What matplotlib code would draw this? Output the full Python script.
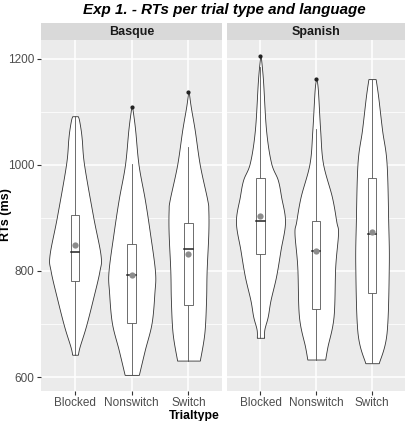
import numpy as np
import matplotlib.pyplot as plt

plt.rcParams['font.family'] = ['Liberation Sans', 'DejaVu Sans']

languages = ["Basque", "Spanish"]
trialtypes = ["Blocked", "Nonswitch", "Switch"]

# violin outlines: (RT, half width in category units)
profiles = {
    ("Basque", "Blocked"): [(642, 0.05), (657, 0.08), (695, 0.19), (745, 0.31), (800, 0.43), (830, 0.45),
                            (902, 0.32), (1000, 0.16), (1047, 0.12), (1066, 0.10), (1085, 0.07), (1092, 0.05)],
    ("Basque", "Nonswitch"): [(604, 0.125), (651, 0.23), (702, 0.35), (760, 0.40), (799, 0.41), (872, 0.32),
                              (935, 0.23), (1000, 0.12), (1066, 0.06), (1100, 0.02), (1109, 0.005)],
    ("Basque", "Switch"): [(631, 0.20), (683, 0.28), (745, 0.31), (800, 0.32), (872, 0.35), (915, 0.35),
                           (935, 0.33), (1000, 0.20), (1066, 0.11), (1110, 0.04), (1138, 0.005)],
    ("Spanish", "Blocked"): [(674, 0.065), (690, 0.07), (714, 0.13), (745, 0.18), (790, 0.28), (840, 0.36),
                             (893, 0.44), (940, 0.37), (972, 0.31), (1004, 0.19), (1066, 0.10), (1160, 0.045),
                             (1206, 0.005)],
    ("Spanish", "Nonswitch"): [(633, 0.16), (657, 0.20), (714, 0.31), (808, 0.34), (871, 0.39), (893, 0.36),
                               (940, 0.28), (1003, 0.12), (1066, 0.07), (1140, 0.03), (1162, 0.005)],
    ("Spanish", "Switch"): [(626, 0.12), (683, 0.26), (808, 0.30), (893, 0.29), (1004, 0.26), (1066, 0.18),
                            (1129, 0.11), (1162, 0.065)],
}

# boxplot stats: whisker low, q1, median, q3, whisker high, mean, outliers
stats = {
    ("Basque", "Blocked"): (642, 782, 835, 905, 1092, 849, []),
    ("Basque", "Nonswitch"): (604, 701, 793, 851, 1002, 793, [1109]),
    ("Basque", "Switch"): (631, 736, 841, 891, 1033, 832, [1138]),
    ("Spanish", "Blocked"): (674, 833, 895, 976, 1185, 904, [1206]),
    ("Spanish", "Nonswitch"): (633, 728, 838, 894, 1067, 838, [1162]),
    ("Spanish", "Switch"): (626, 759, 870, 975, 1162, 873, []),
}


def smooth(pts, n=12):
    # catmull-rom through the outline points, only for drawing
    p = np.asarray(pts, float)
    ext = np.vstack([p[0], p, p[-1]])
    out = [p[0]]
    for k in range(1, len(ext) - 2):
        p0, p1, p2, p3 = ext[k - 1], ext[k], ext[k + 1], ext[k + 2]
        for t in np.linspace(0, 1, n)[1:]:
            t2, t3 = t * t, t * t * t
            out.append(0.5 * (2 * p1 + (-p0 + p2) * t + (2 * p0 - 5 * p1 + 4 * p2 - p3) * t2
                              + (-p0 + 3 * p1 - 3 * p2 + p3) * t3))
    out = np.array(out)
    out[:, 1] = np.clip(out[:, 1], 0, None)
    return out


W, H = 406, 421
fig = plt.figure(figsize=(W / 100, H / 100), dpi=100)

panels = {"Basque": (41, 222.5), "Spanish": (227, 405.5)}
top_px, bot_px, strip_px = 40, 391, 23

axes = []
for lang in languages:
    x0, x1 = panels[lang]
    ax = fig.add_axes([x0 / W, 1 - bot_px / H, (x1 - x0) / W, (bot_px - top_px) / H])
    sax = fig.add_axes([x0 / W, 1 - top_px / H, (x1 - x0) / W, (top_px - strip_px) / H])
    sax.set_facecolor('#D9D9D9')
    sax.set_xticks([]); sax.set_yticks([])
    for s in sax.spines.values():
        s.set_visible(False)
    sax.text(0.5, 0.5, lang, ha='center', va='center', fontsize=9, fontweight='bold',
             color='#1A1A1A', transform=sax.transAxes)

    ax.set_facecolor('#EBEBEB')
    for s in ax.spines.values():
        s.set_visible(False)
    ax.set_xlim(0.4, 3.6)
    ax.set_ylim(573.6, 1235.8)
    ax.set_yticks([600, 800, 1000, 1200])
    ax.set_yticks([700, 900, 1100], minor=True)
    ax.set_xticks([1, 2, 3])
    ax.set_xticklabels(trialtypes)
    ax.grid(which='major', color='white', lw=1.1)
    ax.grid(which='minor', axis='y', color='white', lw=0.55)
    ax.set_axisbelow(True)
    ax.tick_params(axis='both', which='major', length=3, width=0.8, color='#333333',
                   labelsize=8.5, labelcolor='#4D4D4D', pad=1.5)
    ax.tick_params(axis='y', which='minor', length=0)
    if lang != "Basque":
        ax.tick_params(axis='y', which='major', length=0, labelleft=False)

    for i, tt in enumerate(trialtypes):
        pos = i + 1
        prof = smooth(profiles[(lang, tt)])
        ax.fill_betweenx(prof[:, 0], pos - prof[:, 1], pos + prof[:, 1],
                         facecolor='white', edgecolor='#333333', lw=0.6, zorder=2)
        lo, q1, med, q3, hi, mean, outl = stats[(lang, tt)]
        bw = 0.075
        ax.plot([pos, pos], [lo, q1], color='#555555', lw=0.6, zorder=3)
        ax.plot([pos, pos], [q3, hi], color='#555555', lw=0.6, zorder=3)
        ax.add_patch(plt.Rectangle((pos - bw, q1), 2 * bw, q3 - q1, facecolor='white',
                                   edgecolor='#555555', lw=0.6, zorder=3))
        ax.plot([pos - bw, pos + bw], [med, med], color='#222222', lw=1.1, zorder=4)
        if outl:
            ax.plot([pos] * len(outl), outl, 'o', color='#222222', ms=2, zorder=4)
        ax.plot(pos, mean, 'o', color='#8C8C8C', ms=4.5, mec='none', zorder=5)
    axes.append(ax)

fig.text(224 / W, 1 - 10 / H, "Exp 1. - RTs per trial type and language", ha='center', va='center',
         fontsize=10.9, fontweight='bold', fontstyle='italic', color='black')
fig.text(194 / W, 1 - 415.5 / H, "Trialtype", ha='center', va='center', fontsize=8.8, fontweight='bold')
fig.text(6 / W, 1 - 215 / H, "RTs (ms)", ha='center', va='center', rotation=90, fontsize=9,
         fontweight='bold')

fig.savefig("out.png", dpi=100)
